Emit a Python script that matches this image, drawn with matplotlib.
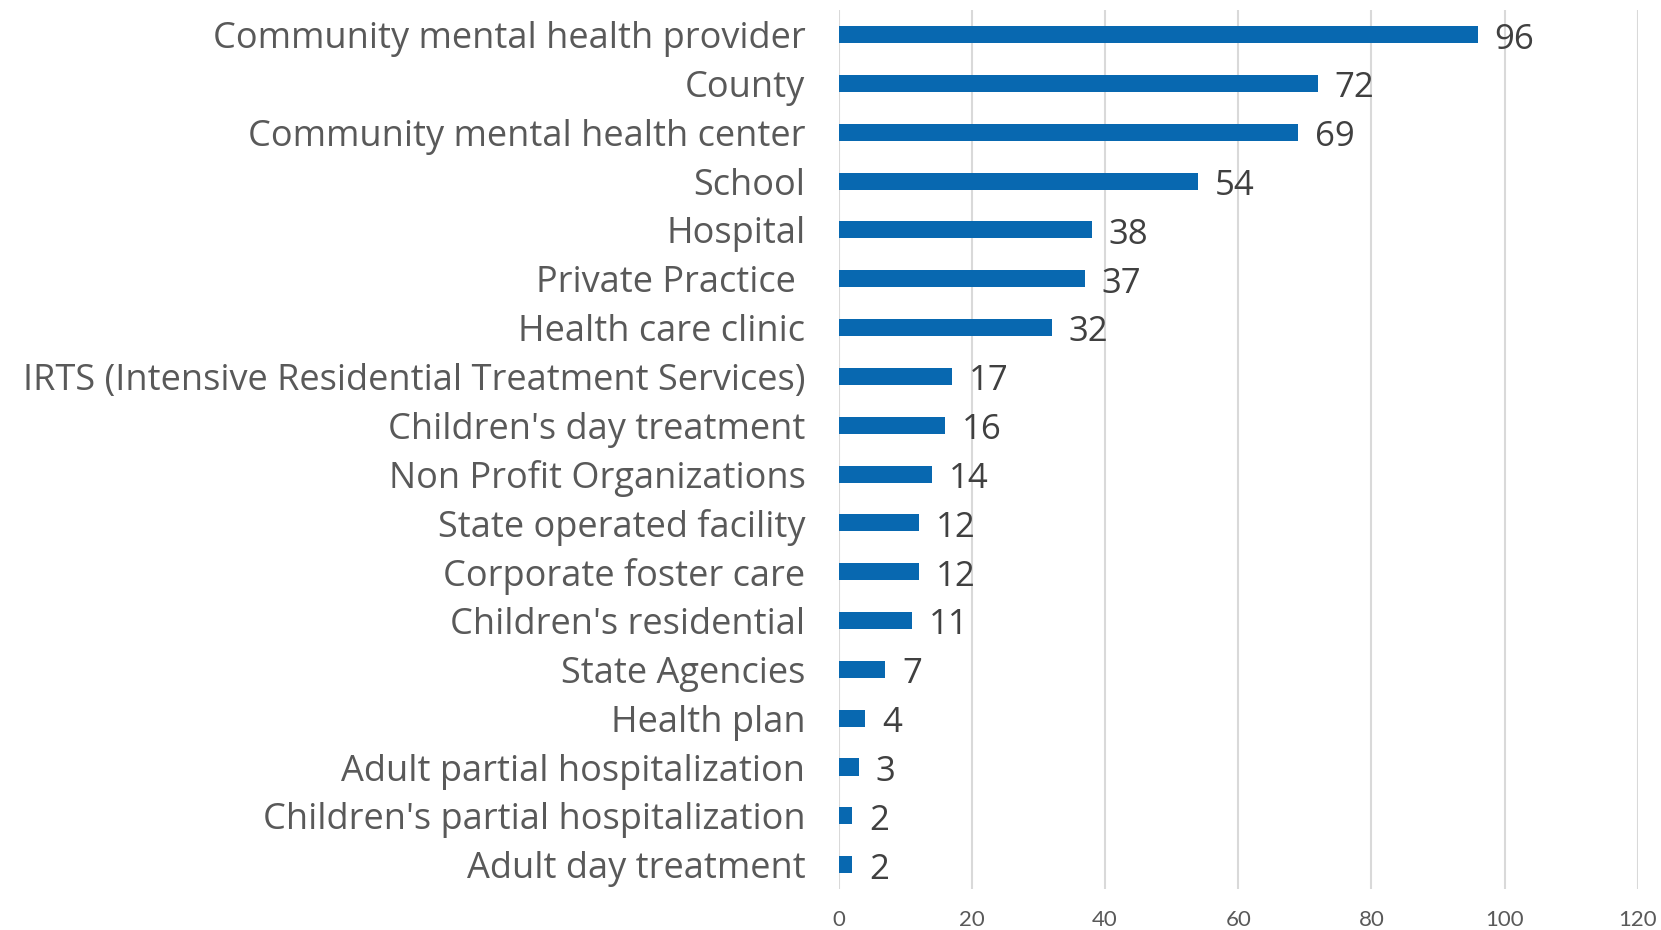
import matplotlib
matplotlib.use("Agg")
from matplotlib import pyplot as plt

categories = ["Community mental health provider", "County", "Community mental health center",
              "School", "Hospital", "Private Practice ", "Health care clinic",
              "IRTS (Intensive Residential Treatment Services)", "Children's day treatment",
              "Non Profit Organizations", "State operated facility", "Corporate foster care",
              "Children's residential", "State Agencies", "Health plan",
              "Adult partial hospitalization", "Children's partial hospitalization",
              "Adult day treatment"]
values = [96, 72, 69, 54, 38, 37, 32, 17, 16, 14, 12, 12, 11, 7, 4, 3, 2, 2]
xticks = [0, 20, 40, 60, 80, 100, 120]

plt.rcParams['font.family'] = ['Open Sans', 'DejaVu Sans']

fig = plt.figure(figsize=(16.61, 9.30), dpi=100)
ax = fig.add_axes([0.505, 0.044, 0.481, 0.945])

pos = list(range(len(categories)))
ax.barh(pos, values, height=0.35, color='#0868B0', zorder=3)
for p, v in zip(pos, values):
    # value label a little to the right of the bar end
    ax.annotate(str(v), (v, p), xytext=(12, -3.5), textcoords='offset points',
                ha='left', va='center', fontsize=25, color='#404040')

ax.set_xlim(0, 120)
ax.set_ylim(17.5, -0.5)
ax.set_xticks(xticks)
ax.set_xticklabels([str(t) for t in xticks], fontsize=16, color='#595959', family=['Lato'])
ax.set_yticks(pos)
ax.set_yticklabels(categories, fontsize=26, color='#595959')
ax.tick_params(axis='both', length=0)
ax.tick_params(axis='y', pad=24)
ax.tick_params(axis='x', pad=15)
ax.grid(axis='x', color='#D9D9D9', linewidth=1.5, zorder=0)
for s in ax.spines.values():
    s.set_visible(False)

fig.savefig("out.png", dpi=100)
